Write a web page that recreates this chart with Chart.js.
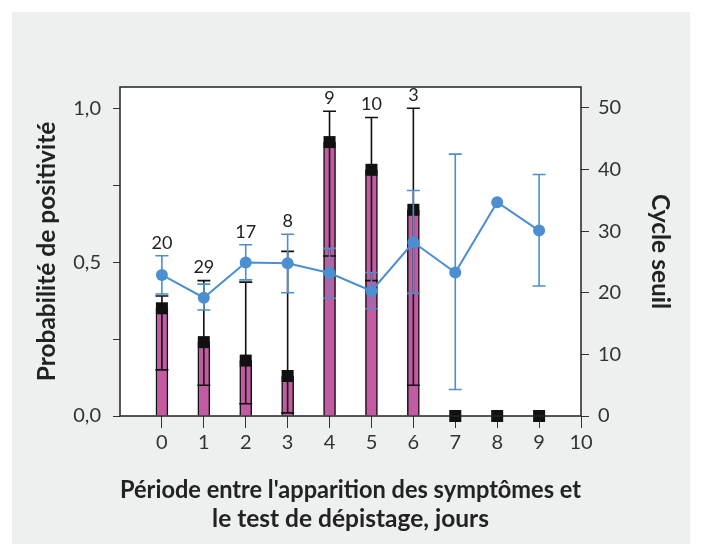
<!DOCTYPE html>
<html>
<head>
<meta charset="utf-8">
<script src="https://cdn.jsdelivr.net/npm/chart.js@4"></script>
<style>
  body { margin: 0; background: #ffffff; }
  #panel { position: absolute; left: 12px; top: 12px; width: 678px; height: 532px; background: #eeefef; }
  canvas { display: block; }
</style>
</head>
<body>
<div id="panel"><canvas id="myChart" width="678" height="532"></canvas></div>
<script>
// Data
const days = [0, 1, 2, 3, 4, 5, 6, 7, 8, 9];
const probability = [0.35, 0.24, 0.18, 0.13, 0.89, 0.80, 0.67, 0, 0, 0];
const probLow = [0.15, 0.10, 0.04, 0.01, 0.52, 0.44, 0.10, null, null, null];
const probHigh = [0.39, 0.44, 0.435, 0.535, 0.99, 0.97, 1.0, null, null, null];
const cycle = [22.9, 19.2, 24.9, 24.8, 23.2, 20.3, 28.2, 23.3, 34.7, 30.1];
const cycleLow = [19.8, 17.2, 22.1, 20.0, 19.1, 17.4, 19.9, 4.3, null, 21.1];
const cycleHigh = [26.0, 21.4, 27.8, 29.5, 27.2, 23.3, 36.6, 42.5, null, 39.2];
const counts = [20, 29, 17, 8, 9, 10, 3, null, null, null];

// Tick values
const dayTicks = [0, 1, 2, 3, 4, 5, 6, 7, 8, 9, 10];
const probTicks = [0, 0.25, 0.5, 0.75, 1.0];
const cycleTicks = [0, 10, 20, 30, 40, 50];

const pink = "#c25ba2";
const blue = "#4b8fd0";
const font = "Lato";

function drawErr(ctx, xs, ys, low, high, color, cap) {
    ctx.save();
    ctx.strokeStyle = color;
    ctx.lineWidth = 1.6;
    days.forEach(function (d, i) {
        if (low[i] == null || high[i] == null) return;
        let x = xs.getPixelForValue(d);
        let y1 = ys.getPixelForValue(low[i]);
        let y2 = ys.getPixelForValue(high[i]);
        ctx.beginPath();
        ctx.moveTo(x, y1); ctx.lineTo(x, y2);
        ctx.moveTo(x - cap / 2, y1); ctx.lineTo(x + cap / 2, y1);
        ctx.moveTo(x - cap / 2, y2); ctx.lineTo(x + cap / 2, y2);
        ctx.stroke();
    });
    ctx.restore();
}

const extras = {
    id: "extras",
    beforeDraw(chart) {
        const a = chart.chartArea;
        chart.ctx.save();
        chart.ctx.fillStyle = "#ffffff";
        chart.ctx.fillRect(a.left, a.top, a.right - a.left, a.bottom - a.top);
        chart.ctx.restore();
    },
    afterDatasetDraw(chart, args) {
        if (args.index === 0) {
            drawErr(chart.ctx, chart.scales.x, chart.scales.y, probLow, probHigh, "#111111", 13);
        }
    },
    beforeDatasetDraw(chart, args) {
        if (args.index === 2) {
            drawErr(chart.ctx, chart.scales.x, chart.scales.y1, cycleLow, cycleHigh, blue, 13);
        }
    },
    afterDatasetsDraw(chart) {
        const ctx = chart.ctx;
        const a = chart.chartArea;
        const xs = chart.scales.x, ys = chart.scales.y, y1 = chart.scales.y1;
        ctx.save();
        ctx.strokeStyle = "#222222";
        ctx.lineWidth = 1.5;
        ctx.strokeRect(a.left, a.top, a.right - a.left, a.bottom - a.top);
        // sample sizes above the error bars
        ctx.fillStyle = "#222222";
        ctx.font = "18px " + font;
        ctx.textAlign = "center";
        ctx.textBaseline = "bottom";
        days.forEach(function (d, i) {
            if (counts[i] == null) return;
            let top = Math.min(ys.getPixelForValue(probHigh[i]), y1.getPixelForValue(cycleHigh[i]));
            ctx.fillText(String(counts[i]), xs.getPixelForValue(d), top - 4);
        });
        ctx.restore();
    }
};

const tickFont = { family: font, size: 20 };
const titleFont = { family: font, size: 24.5, weight: "bold" };

new Chart(document.getElementById("myChart").getContext("2d"), {
    data: {
        datasets: [{
            type: "bar",
            label: "Probabilité",
            data: days.map((d, i) => ({ x: d, y: probability[i] })),
            backgroundColor: pink,
            borderColor: "#111111",
            borderWidth: 1.5,
            barThickness: 12,
            yAxisID: "y",
            order: 3
        }, {
            type: "line",
            label: "Probabilité (point)",
            data: days.map((d, i) => ({ x: d, y: probability[i] })),
            showLine: false,
            pointStyle: "rect",
            pointRadius: 8.5,
            pointBackgroundColor: "#111111",
            pointBorderWidth: 0,
            clip: false,
            yAxisID: "y",
            order: 2
        }, {
            type: "line",
            label: "Cycle seuil",
            data: days.map((d, i) => ({ x: d, y: cycle[i] })),
            borderColor: blue,
            borderWidth: 2,
            pointRadius: 6,
            pointBackgroundColor: blue,
            pointBorderWidth: 0,
            clip: false,
            yAxisID: "y1",
            order: 1
        }]
    },
    options: {
        responsive: false,
        animation: false,
        layout: { padding: { left: 10, right: 10, top: 75, bottom: 10 } },
        plugins: {
            legend: { display: false },
            tooltip: { enabled: false }
        },
        scales: {
            x: {
                type: "linear",
                min: -1,
                max: 10,
                offset: false,
                afterBuildTicks: s => { s.ticks = dayTicks.map(v => ({ value: v })); },
                afterFit: s => { s.height = 118; },
                ticks: { autoSkip: false, color: "#333333", font: tickFont, padding: 3 },
                grid: { offset: false, drawOnChartArea: false, tickLength: 12, tickColor: "#333333" },
                border: { display: false },
                title: {
                    display: true,
                    text: ["Période entre l'apparition des symptômes et", "le test de dépistage, jours"],
                    color: "#222222",
                    font: titleFont,
                    padding: { top: 0, bottom: 0 }
                }
            },
            y: {
                position: "left",
                min: 0,
                max: 1.069,
                afterBuildTicks: s => { s.ticks = probTicks.map(v => ({ value: v })); },
                afterFit: s => { s.width = 98; },
                ticks: {
                    autoSkip: false,
                    color: "#333333",
                    font: tickFont,
                    padding: 12,
                    callback: v => (Math.abs(v * 2 - Math.round(v * 2)) < 1e-6 ? v.toFixed(1).replace(".", ",") : "")
                },
                grid: { drawOnChartArea: false, tickLength: 7, tickColor: "#333333" },
                border: { display: false },
                title: { display: true, text: "Probabilité de positivité", color: "#222222", font: titleFont, padding: { top: 10, bottom: 0 } }
            },
            y1: {
                position: "right",
                min: 0,
                max: 53.4,
                afterBuildTicks: s => { s.ticks = cycleTicks.map(v => ({ value: v })); },
                afterFit: s => { s.width = 99; },
                ticks: { autoSkip: false, color: "#333333", font: tickFont, padding: 9 },
                grid: { drawOnChartArea: false, tickLength: 8, tickColor: "#333333" },
                border: { display: false },
                title: { display: true, text: "Cycle seuil", color: "#222222", font: titleFont, padding: { top: 5, bottom: 0 } }
            }
        }
    },
    plugins: [extras]
});
</script>
</body>
</html>
